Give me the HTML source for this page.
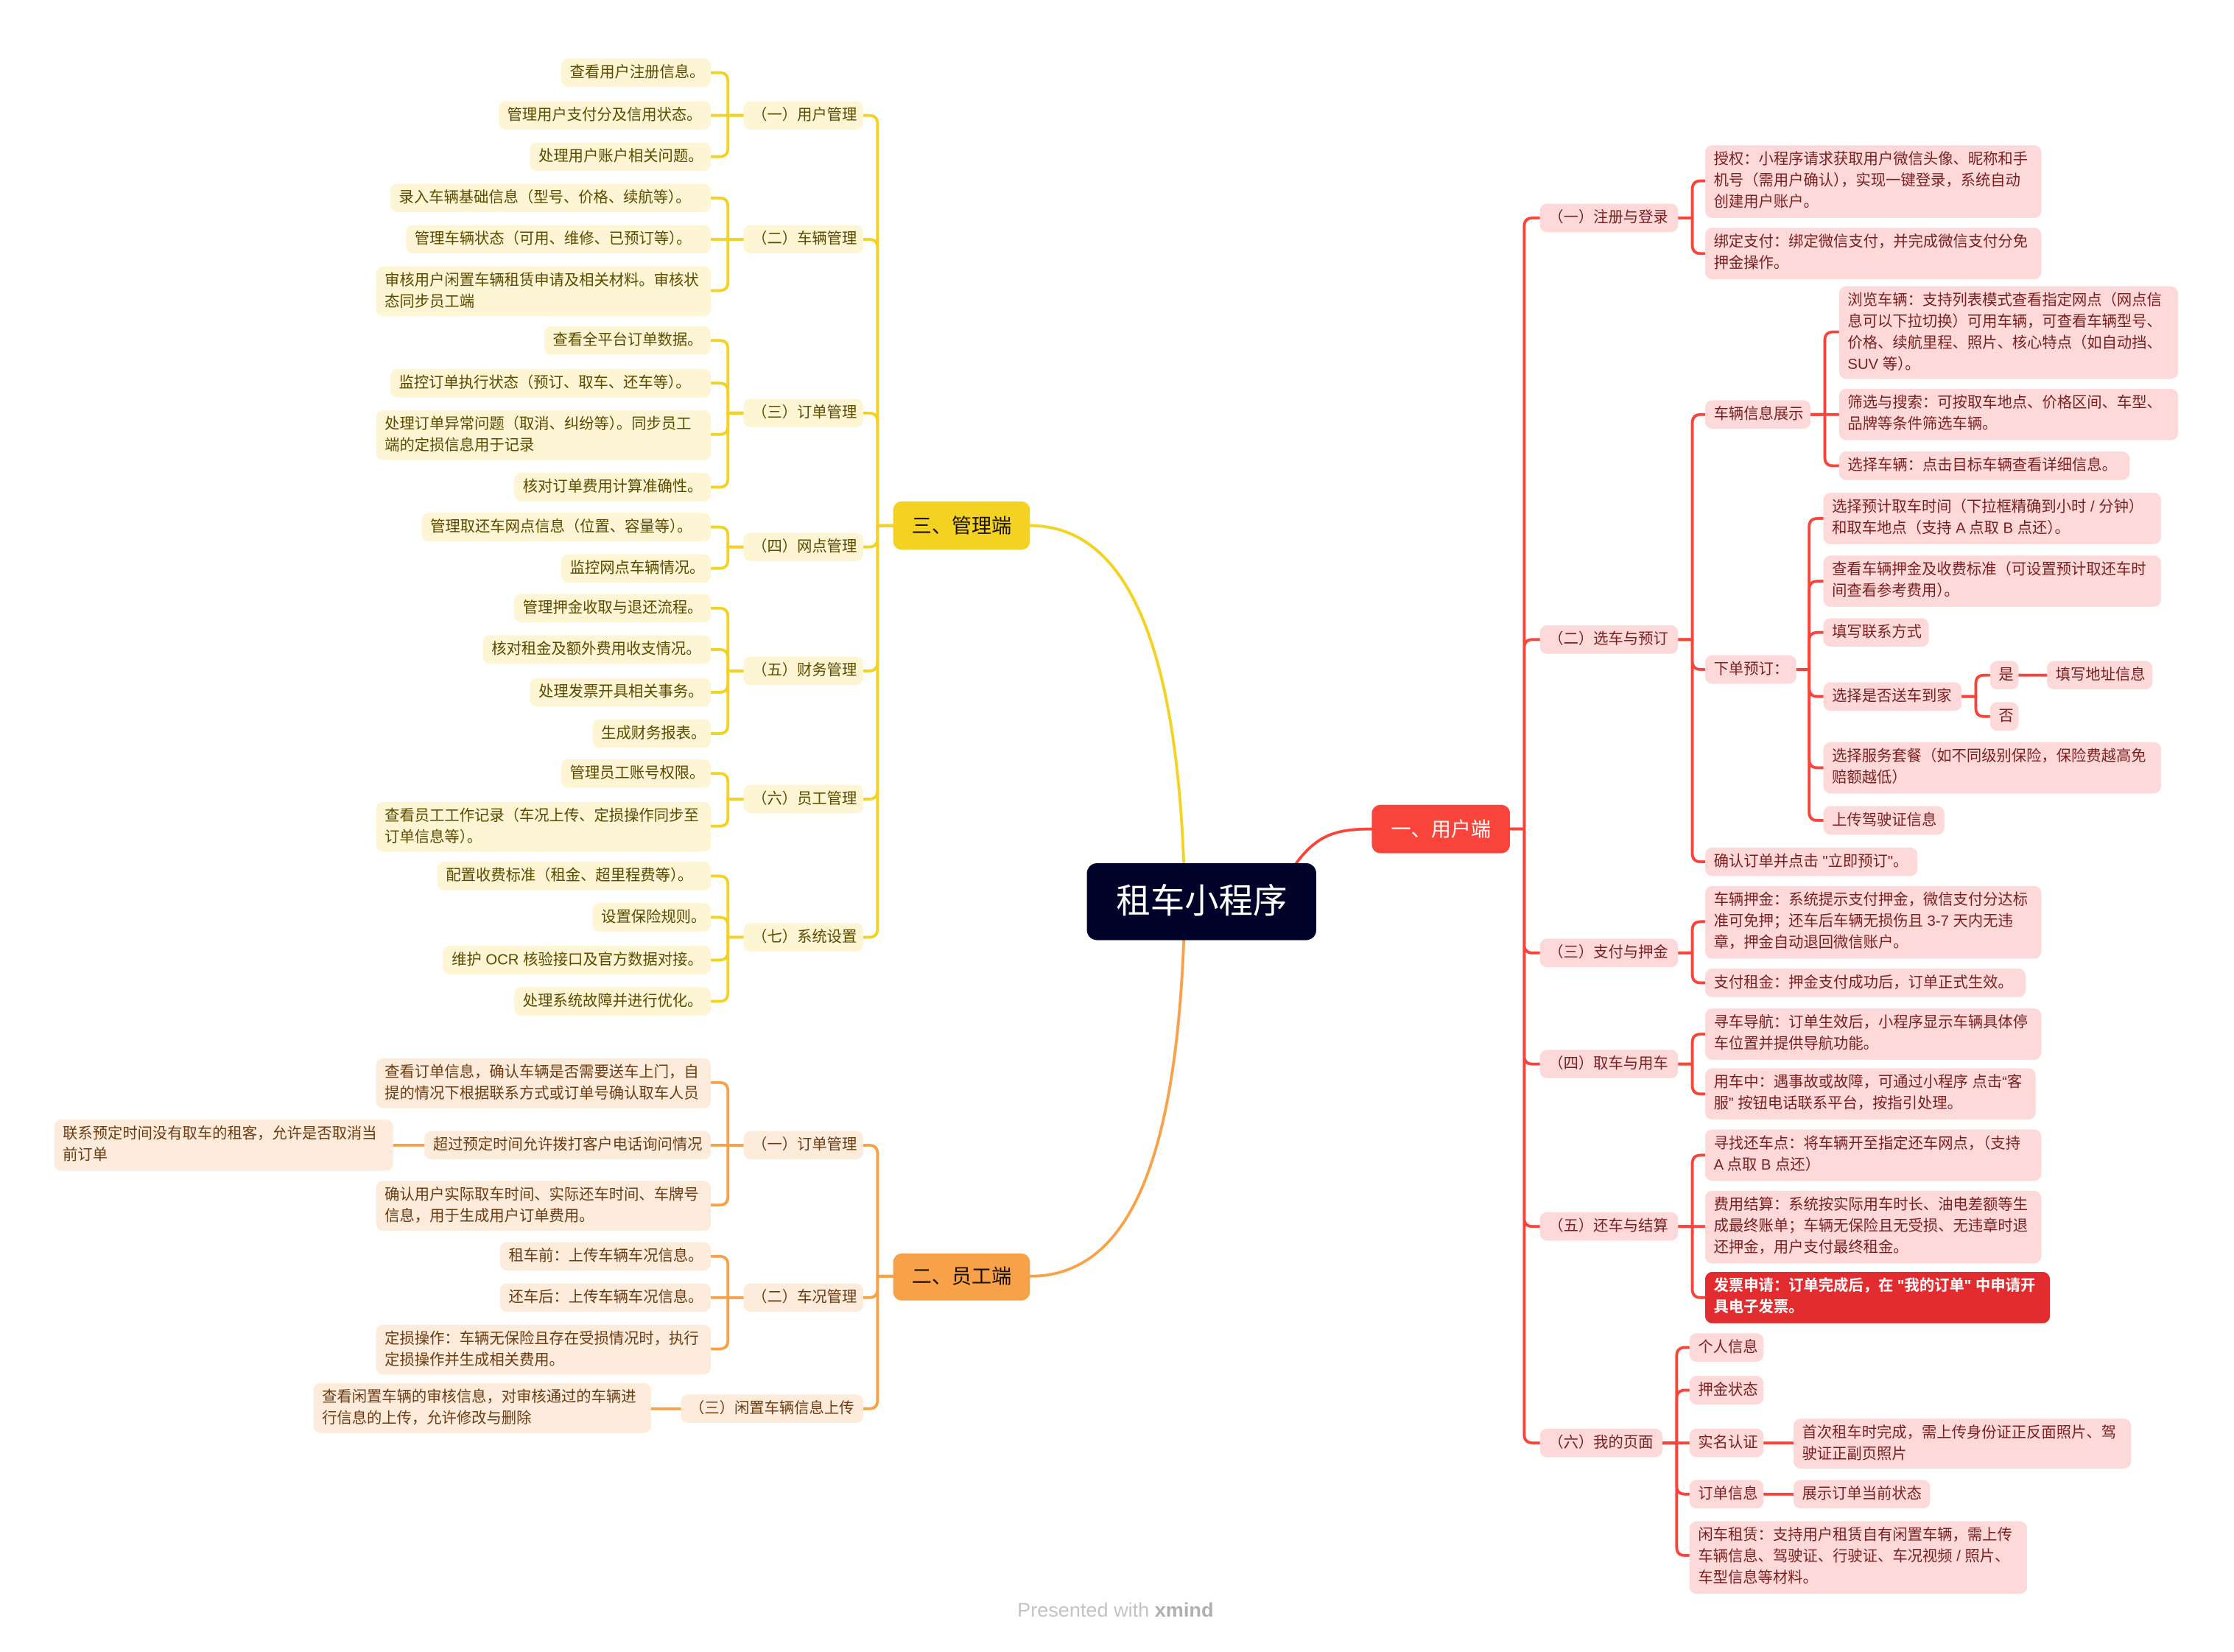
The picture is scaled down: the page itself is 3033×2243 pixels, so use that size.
<!DOCTYPE html>
<html><head><meta charset="utf-8">
<style>
html,body{margin:0;padding:0;background:#fff;}
body{width:3033px;height:2238px;overflow:hidden;position:relative;}
#c{position:absolute;left:0;top:0;width:1570px;height:1160px;transform:scale(1.934);transform-origin:0 0;font-family:"Liberation Sans","Noto Sans CJK SC",sans-serif;}
.n{position:absolute;box-sizing:border-box;border-radius:5px;font-size:10.5px;line-height:15px;padding:0 6px;display:flex;align-items:center;white-space:nowrap;height:20px;}
.y{background:#fdf5d3;color:#5b4a00;}
.o{background:#fdebdb;color:#6b3b12;}
.p{background:#fdd9d9;color:#7a1f1f;}
.m{font-size:14px;justify-content:center;border-radius:6px;}
svg{position:absolute;left:0;top:0;}
</style></head><body>
<div id="c">
<svg id="s" width="1560" height="1151" viewBox="0 0 1560 1151" fill="none" stroke-width="2" stroke-linecap="round">
<path d="M910 606 C925 585,940 582,963 582" stroke="#f9443b"/>
<path d="M831 606 C825 450,790 369,723 369" stroke="#f3d222"/>
<path d="M831 660 C825 820,790 896,723 896" stroke="#f7a248"/>
</svg>

<div class="n" style="left:763px;top:606px;width:161px;height:54px;background:#000229;color:#fff;font-size:24px;justify-content:center;border-radius:7px;">租车小程序</div>

<div class="n m" style="left:963px;top:565px;width:97px;height:34px;background:#f9443b;color:#fff;">一、用户端</div>
<div class="n m" style="left:627px;top:352px;width:96px;height:34px;background:#f3d222;color:#1a1400;">三、管理端</div>
<div class="n m" style="left:627px;top:880px;width:96px;height:33px;background:#f7a248;color:#1a0e00;">二、员工端</div>

<div class="n y" style="left:522px;top:71px;width:84px;">（一）用户管理</div>
<div class="n y" style="left:522px;top:158px;width:84px;">（二）车辆管理</div>
<div class="n y" style="left:522px;top:280px;width:84px;">（三）订单管理</div>
<div class="n y" style="left:522px;top:374px;width:84px;">（四）网点管理</div>
<div class="n y" style="left:522px;top:461px;width:84px;">（五）财务管理</div>
<div class="n y" style="left:522px;top:551px;width:84px;">（六）员工管理</div>
<div class="n y" style="left:522px;top:648px;width:84px;">（七）系统设置</div>

<div class="n y" style="left:394px;top:41px;width:105px;">查看用户注册信息。</div>
<div class="n y" style="left:350px;top:71px;width:149px;">管理用户支付分及信用状态。</div>
<div class="n y" style="left:372px;top:100px;width:127px;">处理用户账户相关问题。</div>
<div class="n y" style="left:274px;top:129px;width:225px;">录入车辆基础信息（型号、价格、续航等）。</div>
<div class="n y" style="left:285px;top:158px;width:214px;">管理车辆状态（可用、维修、已预订等）。</div>
<div class="n y" style="left:264px;top:187px;width:235px;height:35px;">审核用户闲置车辆租赁申请及相关材料。审核状<br>态同步员工端</div>
<div class="n y" style="left:382px;top:229px;width:117px;">查看全平台订单数据。</div>
<div class="n y" style="left:274px;top:259px;width:225px;">监控订单执行状态（预订、取车、还车等）。</div>
<div class="n y" style="left:264px;top:288px;width:235px;height:35px;">处理订单异常问题（取消、纠纷等）。同步员工<br>端的定损信息用于记录</div>
<div class="n y" style="left:361px;top:332px;width:138px;">核对订单费用计算准确性。</div>
<div class="n y" style="left:296px;top:360px;width:203px;">管理取还车网点信息（位置、容量等）。</div>
<div class="n y" style="left:394px;top:389px;width:105px;">监控网点车辆情况。</div>
<div class="n y" style="left:361px;top:417px;width:138px;">管理押金收取与退还流程。</div>
<div class="n y" style="left:339px;top:446px;width:160px;">核对租金及额外费用收支情况。</div>
<div class="n y" style="left:372px;top:476px;width:127px;">处理发票开具相关事务。</div>
<div class="n y" style="left:416px;top:505px;width:83px;">生成财务报表。</div>
<div class="n y" style="left:394px;top:533px;width:105px;">管理员工账号权限。</div>
<div class="n y" style="left:264px;top:563px;width:235px;height:35px;">查看员工工作记录（车况上传、定损操作同步至<br>订单信息等）。</div>
<div class="n y" style="left:307px;top:605px;width:192px;">配置收费标准（租金、超里程费等）。</div>
<div class="n y" style="left:416px;top:634px;width:83px;">设置保险规则。</div>
<div class="n y" style="left:311px;top:664px;width:188px;">维护 OCR 核验接口及官方数据对接。</div>
<div class="n y" style="left:361px;top:693px;width:138px;">处理系统故障并进行优化。</div>

<div class="n o" style="left:522px;top:794px;width:84px;">（一）订单管理</div>
<div class="n o" style="left:522px;top:901px;width:84px;">（二）车况管理</div>
<div class="n o" style="left:478px;top:979px;width:128px;">（三）闲置车辆信息上传</div>
<div class="n o" style="left:264px;top:743px;width:235px;height:35px;">查看订单信息，确认车辆是否需要送车上门，自<br>提的情况下根据联系方式或订单号确认取车人员</div>
<div class="n o" style="left:298px;top:794px;width:201px;">超过预定时间允许拨打客户电话询问情况</div>
<div class="n o" style="left:264px;top:829px;width:235px;height:35px;">确认用户实际取车时间、实际还车时间、车牌号<br>信息，用于生成用户订单费用。</div>
<div class="n o" style="left:38px;top:786px;width:238px;height:36px;">联系预定时间没有取车的租客，允许是否取消当<br>前订单</div>
<div class="n o" style="left:351px;top:872px;width:148px;">租车前：上传车辆车况信息。</div>
<div class="n o" style="left:351px;top:901px;width:148px;">还车后：上传车辆车况信息。</div>
<div class="n o" style="left:264px;top:930px;width:235px;height:35px;">定损操作：车辆无保险且存在受损情况时，执行<br>定损操作并生成相关费用。</div>
<div class="n o" style="left:220px;top:971px;width:237px;height:35px;">查看闲置车辆的审核信息，对审核通过的车辆进<br>行信息的上传，允许修改与删除</div>

<div class="n p" style="left:1081px;top:143px;width:97px;">（一）注册与登录</div>
<div class="n p" style="left:1081px;top:439px;width:97px;">（二）选车与预订</div>
<div class="n p" style="left:1081px;top:659px;width:97px;">（三）支付与押金</div>
<div class="n p" style="left:1081px;top:737px;width:97px;">（四）取车与用车</div>
<div class="n p" style="left:1081px;top:851px;width:97px;">（五）还车与结算</div>
<div class="n p" style="left:1081px;top:1003px;width:86px;">（六）我的页面</div>

<div class="n p" style="left:1197px;top:102px;width:236px;height:51px;">授权：小程序请求获取用户微信头像、昵称和手<br>机号（需用户确认），实现一键登录，系统自动<br>创建用户账户。</div>
<div class="n p" style="left:1197px;top:160px;width:236px;height:36px;">绑定支付：绑定微信支付，并完成微信支付分免<br>押金操作。</div>
<div class="n p" style="left:1197px;top:281px;width:74px;">车辆信息展示</div>
<div class="n p" style="left:1197px;top:460px;width:64px;">下单预订：</div>
<div class="n p" style="left:1197px;top:595px;width:149px;">确认订单并点击 "立即预订"。</div>
<div class="n p" style="left:1291px;top:201px;width:238px;height:65px;">浏览车辆：支持列表模式查看指定网点（网点信<br>息可以下拉切换）可用车辆，可查看车辆型号、<br>价格、续航里程、照片、核心特点（如自动挡、<br>SUV 等）。</div>
<div class="n p" style="left:1291px;top:273px;width:238px;height:36px;">筛选与搜索：可按取车地点、价格区间、车型、<br>品牌等条件筛选车辆。</div>
<div class="n p" style="left:1291px;top:317px;width:204px;">选择车辆：点击目标车辆查看详细信息。</div>
<div class="n p" style="left:1280px;top:346px;width:237px;height:36px;">选择预计取车时间（下拉框精确到小时 / 分钟）<br>和取车地点（支持 A 点取 B 点还）。</div>
<div class="n p" style="left:1280px;top:390px;width:237px;height:36px;">查看车辆押金及收费标准（可设置预计取还车时<br>间查看参考费用）。</div>
<div class="n p" style="left:1280px;top:434px;width:74px;">填写联系方式</div>
<div class="n p" style="left:1280px;top:479px;width:97px;">选择是否送车到家</div>
<div class="n p" style="left:1280px;top:521px;width:237px;height:36px;">选择服务套餐（如不同级别保险，保险费越高免<br>赔额越低）</div>
<div class="n p" style="left:1280px;top:566px;width:85px;">上传驾驶证信息</div>
<div class="n p" style="left:1397px;top:464px;width:20px;">是</div>
<div class="n p" style="left:1397px;top:493px;width:20px;">否</div>
<div class="n p" style="left:1437px;top:464px;width:74px;">填写地址信息</div>
<div class="n p" style="left:1197px;top:622px;width:236px;height:51px;">车辆押金：系统提示支付押金，微信支付分达标<br>准可免押；还车后车辆无损伤且 3-7 天内无违<br>章，押金自动退回微信账户。</div>
<div class="n p" style="left:1197px;top:680px;width:225px;">支付租金：押金支付成功后，订单正式生效。</div>
<div class="n p" style="left:1197px;top:708px;width:236px;height:36px;">寻车导航：订单生效后，小程序显示车辆具体停<br>车位置并提供导航功能。</div>
<div class="n p" style="left:1197px;top:750px;width:232px;height:36px;">用车中：遇事故或故障，可通过小程序 点击“客<br>服” 按钮电话联系平台，按指引处理。</div>
<div class="n p" style="left:1197px;top:793px;width:236px;height:36px;">寻找还车点：将车辆开至指定还车网点，（支持<br>A 点取 B 点还）</div>
<div class="n p" style="left:1197px;top:836px;width:236px;height:51px;">费用结算：系统按实际用车时长、油电差额等生<br>成最终账单；车辆无保险且无受损、无违章时退<br>还押金，用户支付最终租金。</div>
<div class="n" style="left:1197px;top:893px;width:242px;height:36px;background:#e22c2f;color:#fff;font-weight:bold;">发票申请：订单完成后，在 "我的订单" 中申请开<br>具电子发票。</div>
<div class="n p" style="left:1186px;top:936px;width:52px;">个人信息</div>
<div class="n p" style="left:1186px;top:966px;width:52px;">押金状态</div>
<div class="n p" style="left:1186px;top:1003px;width:52px;">实名认证</div>
<div class="n p" style="left:1186px;top:1039px;width:52px;">订单信息</div>
<div class="n p" style="left:1259px;top:996px;width:237px;height:35px;">首次租车时完成，需上传身份证正反面照片、驾<br>驶证正副页照片</div>
<div class="n p" style="left:1259px;top:1039px;width:96px;">展示订单当前状态</div>
<div class="n p" style="left:1186px;top:1068px;width:237px;height:51px;">闲车租赁：支持用户租赁自有闲置车辆，需上传<br>车辆信息、驾驶证、行驶证、车况视频 / 照片、<br>车型信息等材料。</div>

<div style="position:absolute;left:0;width:1566px;top:1122px;text-align:center;font-size:14px;color:#c4c4c4;">Presented with <b style="color:#b0b0b0;">xmind</b></div>
</div>
<script>
var Y="#f3d222",O="#f7a248",R="#f9443b";
var G=[
[627,369,616,606,[81,168,290,384,471,561,658],Y],
[522,81,511,499,[51,81,110],Y],
[522,168,511,499,[139,168,204],Y],
[522,290,511,499,[239,269,305,342],Y],
[522,384,511,499,[370,399],Y],
[522,471,511,499,[427,456,486,515],Y],
[522,561,511,499,[543,580],Y],
[522,658,511,499,[615,644,674,703],Y],
[627,896,616,606,[804,911,989],O],
[522,804,511,499,[760,804,846],O],
[522,911,511,499,[882,911,947],O],
[298,804,287,276,[804],O],
[478,989,467,457,[989],O],
[1060,582,1070,1081,[153,449,669,747,861,1013],R],
[1178,153,1188,1197,[127,178],R],
[1178,449,1188,1197,[291,470,605],R],
[1271,291,1281,1291,[233,291,327],R],
[1261,470,1270,1280,[364,408,444,489,539,576],R],
[1377,489,1387,1397,[474,503],R],
[1417,474,1427,1437,[474],R],
[1178,669,1188,1197,[647,690],R],
[1178,747,1188,1197,[726,768],R],
[1178,861,1188,1197,[811,861,911],R],
[1167,1013,1177,1186,[946,976,1013,1049,1092],R],
[1238,1013,1248,1259,[1013],R],
[1238,1049,1248,1259,[1049],R]
];
var s=document.getElementById("s"),h="";
G.forEach(function(g){var px=g[0],py=g[1],bx=g[2],cx=g[3],c=g[5];
g[4].forEach(function(cy){var d,r=6,dir=cx>bx?1:-1;
if(Math.abs(cy-py)<r){d="M"+px+" "+py+" H"+bx+" V"+cy+" H"+cx;}
else{var sg=cy>py?1:-1;d="M"+px+" "+py+" H"+bx+" V"+(cy-sg*r)+" Q"+bx+" "+cy+" "+(bx+dir*r)+" "+cy+" H"+cx;}
h+='<path d="'+d+'" stroke="'+c+'"/>';});});
s.innerHTML+=h;
</script>
</body></html>
